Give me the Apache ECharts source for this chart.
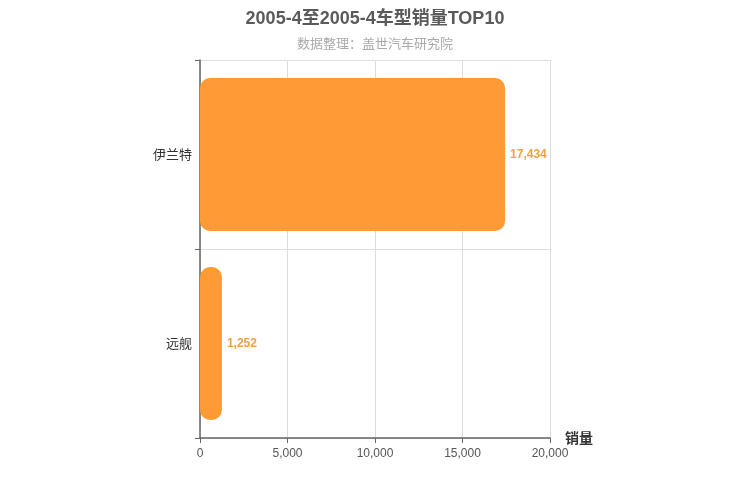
<!DOCTYPE html>
<html>
<head>
<meta charset="utf-8">
<script src="https://cdn.jsdelivr.net/npm/echarts@6/dist/echarts.min.js"></script>
<style>
  html, body { margin: 0; padding: 0; background: #fff; }
  #main { width: 750px; height: 500px; }
</style>
</head>
<body>
<div id="main"></div>
<script>
let categories = ["远舰", "伊兰特"];
let salesData = [1252, 17434];
let xTicks = [0, 5000, 10000, 15000, 20000];

let chart = echarts.init(document.getElementById("main"));
let option = {
  title: {
    text: "2005-4至2005-4车型销量TOP10",
    subtext: "数据整理：盖世汽车研究院",
    left: "center",
    top: 5,
    itemGap: 9,
    textStyle: {
      color: "#5a5a5a",
      fontSize: 18,
      fontWeight: "bold",
      fontFamily: "Liberation Sans, Noto Sans CJK SC, sans-serif",
    },
    subtextStyle: {
      color: "#aaa",
      fontSize: 13,
      fontFamily: "Noto Sans CJK SC, sans-serif",
    },
  },
  grid: {
    left: 200,
    right: 200,
    top: 60,
    bottom: 62,
  },
  xAxis: {
    type: "value",
    min: xTicks[0],
    max: xTicks[xTicks.length - 1],
    interval: 5000,
    name: "销量",
    nameGap: 15,
    nameTextStyle: {
      color: "#333",
      fontSize: 14,
      fontWeight: "bold",
      fontFamily: "Noto Sans CJK SC, sans-serif",
    },
    axisLine: { show: true, lineStyle: { color: "#666", width: 1.5 } },
    axisTick: { show: true, lineStyle: { color: "#666" } },
    axisLabel: {
      color: "#555",
      fontSize: 12,
      margin: 10,
      fontFamily: "Liberation Sans, sans-serif",
      formatter: function (v) {
        return v.toLocaleString("en-US");
      },
    },
    splitLine: { show: true, lineStyle: { color: "#ddd" } },
  },
  yAxis: {
    type: "category",
    data: categories,
    axisLine: { show: true, lineStyle: { color: "#666", width: 1.5 } },
    axisTick: { show: true, lineStyle: { color: "#666" } },
    axisLabel: {
      color: "#333",
      fontSize: 13,
      padding: [4, 0, 0, 0],
      fontFamily: "Noto Sans CJK SC, sans-serif",
    },
    splitLine: { show: true, lineStyle: { color: "#ddd" } },
  },
  series: [
    {
      type: "bar",
      data: salesData,
      barWidth: "81%",
      itemStyle: {
        color: "#ff9b35",
        borderRadius: 10,
      },
      label: {
        show: true,
        position: "right",
        color: "#f4a042",
        fontSize: 12,
        fontWeight: "bold",
        padding: [3, 0, 0, 0],
        fontFamily: "Liberation Sans, sans-serif",
        formatter: function (p) {
          return p.value.toLocaleString("en-US");
        },
      },
    },
  ],
};
chart.setOption(option);
</script>
</body>
</html>
